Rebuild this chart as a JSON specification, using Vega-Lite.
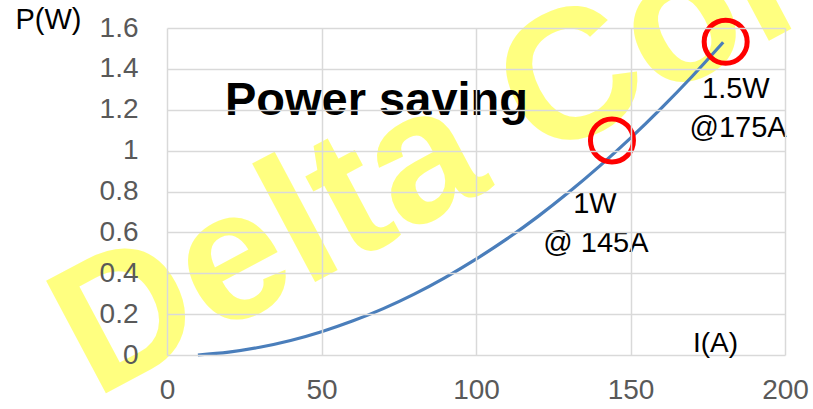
{
  "$schema": "https://vega.github.io/schema/vega-lite/v6.json",
  "width": 618,
  "height": 327,
  "autosize": {"type": "none"},
  "padding": {"left": 167, "top": 28, "right": 28, "bottom": 54},
  "background": "white",
  "config": {"view": {"stroke": null}, "font": "Liberation Sans"},
  "datasets": {
    "curve": [
      {"I": 10, "P": 0.0},
      {"I": 20, "P": 0.014},
      {"I": 30, "P": 0.038},
      {"I": 40, "P": 0.071},
      {"I": 50, "P": 0.114},
      {"I": 60, "P": 0.166},
      {"I": 70, "P": 0.227},
      {"I": 80, "P": 0.298},
      {"I": 90, "P": 0.379},
      {"I": 100, "P": 0.469},
      {"I": 110, "P": 0.568},
      {"I": 120, "P": 0.677},
      {"I": 130, "P": 0.796},
      {"I": 140, "P": 0.924},
      {"I": 150, "P": 1.061},
      {"I": 160, "P": 1.208},
      {"I": 170, "P": 1.364},
      {"I": 180, "P": 1.53}
    ],
    "circles": [
      {"I": 144, "P": 1.05},
      {"I": 180.8, "P": 1.533}
    ],
    "notes": [
      {"I": 138.5, "P": 0.695, "label": "1W"},
      {"I": 138.8, "P": 0.504, "label": "@ 145A"},
      {"I": 184.1, "P": 1.2575, "label": "1.5W"},
      {"I": 184.8, "P": 1.0667, "label": "@175A"}
    ],
    "title": [{"I": 67.8, "P": 1.174, "label": "Power saving"}],
    "watermark": [{"I": -23.3, "P": -0.215, "label": "Delta Confidential"}]
  },
  "encoding": {
    "x": {
      "field": "I", "type": "quantitative",
      "scale": {"domain": [0, 200], "nice": false, "zero": false},
      "axis": {
        "values": [0, 50, 100, 150, 200],
        "grid": true, "gridColor": "#d9d9d9", "gridWidth": 1.5,
        "domain": false, "ticks": false,
        "labelFontSize": 28, "labelColor": "#595959", "labelFont": "Liberation Sans",
        "labelPadding": 21, "labelFlush": false, "labelOverlap": false, "labelBound": false,
        "title": "I(A)", "titleX": 548, "titleY": -4, "titleAlign": "center", "titleBaseline": "alphabetic",
        "titleFontSize": 28, "titleFontWeight": "normal", "titleColor": "#000000", "titleFont": "Liberation Sans",
        "zindex": 1
      }
    },
    "y": {
      "field": "P", "type": "quantitative",
      "scale": {"domain": [0, 1.6], "nice": false, "zero": false},
      "axis": {
        "values": [0, 0.2, 0.4, 0.6, 0.8, 1, 1.2, 1.4, 1.6],
        "format": "~g",
        "grid": true, "gridColor": "#d9d9d9", "gridWidth": 1.5,
        "domain": false, "ticks": false,
        "labelFontSize": 28, "labelColor": "#595959", "labelFont": "Liberation Sans",
        "labelPadding": 29, "labelFlush": false, "labelOverlap": false, "labelBound": false,
        "title": "P(W)", "titleAngle": 0, "titleX": -119, "titleY": 0, "titleAlign": "center", "titleBaseline": "alphabetic",
        "titleFontSize": 29, "titleFontWeight": "normal", "titleColor": "#000000", "titleFont": "Liberation Sans",
        "zindex": 1
      }
    }
  },
  "layer": [
    {
      "data": {"name": "watermark"},
      "mark": {"type": "text", "angle": -28, "align": "left", "baseline": "alphabetic", "fontSize": 185, "fontWeight": "bold", "font": "Liberation Sans", "color": "#ffff80"},
      "encoding": {"text": {"field": "label"}}
    },
    {
      "data": {"name": "curve"},
      "mark": {"type": "line", "color": "#4a7ebb", "strokeWidth": 3.2, "interpolate": "monotone"},
      "encoding": {}
    },
    {
      "data": {"name": "circles"},
      "mark": {"type": "point", "shape": "circle", "filled": false, "color": "#ff0000", "strokeWidth": 5, "size": 1850, "opacity": 1},
      "encoding": {}
    },
    {
      "data": {"name": "notes"},
      "mark": {"type": "text", "align": "center", "baseline": "alphabetic", "fontSize": 29, "font": "Liberation Sans", "color": "#000000"},
      "encoding": {"text": {"field": "label"}}
    },
    {
      "data": {"name": "title"},
      "mark": {"type": "text", "align": "center", "baseline": "alphabetic", "fontSize": 47, "fontWeight": "bold", "font": "Liberation Sans", "color": "#000000"},
      "encoding": {"text": {"field": "label"}}
    }
  ]
}
